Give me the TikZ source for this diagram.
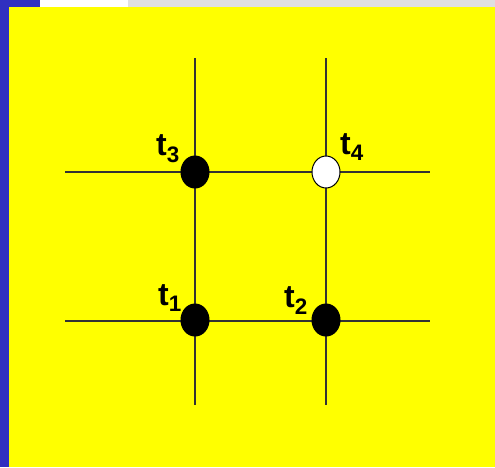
\documentclass[tikz,border=0pt]{standalone}
\usepackage{fontspec}
\setmainfont{Liberation Sans}
\usetikzlibrary{shapes.geometric}
\definecolor{bgyellow}{RGB}{255,255,0}
\definecolor{edgeblue}{RGB}{48,48,192}
\begin{document}
\begin{tikzpicture}[x=1pt,y=-1pt,
  gridline/.style={line width=1.6pt, draw=black!80},
  dot/.style={ellipse, minimum width=28pt, minimum height=32pt, inner sep=0pt, draw=black, line width=1pt},
  lbl/.style={font=\bfseries\fontsize{32}{36}\selectfont, inner sep=0pt}]
\useasboundingbox (0,0) rectangle (495,467);
\fill[white] (0,0) rectangle (495,467);
\fill[black!12] (128,0) rectangle (495,7);
\fill[edgeblue] (0,0) rectangle (40,7);
\fill[edgeblue] (0,0) rectangle (9,467);
\fill[bgyellow] (9,7) rectangle (495,467);
% grid
\coordinate (v1t) at (195,58); \coordinate (v1b) at (195,405);
\coordinate (v2t) at (326,58); \coordinate (v2b) at (326,405);
\coordinate (h1l) at (65,172); \coordinate (h1r) at (430,172);
\coordinate (h2l) at (65,321); \coordinate (h2r) at (430,321);
\draw[gridline] (v1t) -- (v1b);
\draw[gridline] (v2t) -- (v2b);
\draw[gridline] (h1l) -- (h1r);
\draw[gridline] (h2l) -- (h2r);
\node[dot, fill=black] (n3) at (195,172) {};
\node[dot, fill=white] (n4) at (326,172) {};
\node[dot, fill=black] (n1) at (195,320) {};
\node[dot, fill=black] (n2) at (326,320) {};
\node[lbl] (l3) at (168,149) {t\textsubscript{3}};
\node[lbl] (l4) at (352,147) {t\textsubscript{4}};
\node[lbl] (l1) at (170,298) {t\textsubscript{1}};
\node[lbl] (l2) at (296,301) {t\textsubscript{2}};
\end{tikzpicture}
\end{document}
